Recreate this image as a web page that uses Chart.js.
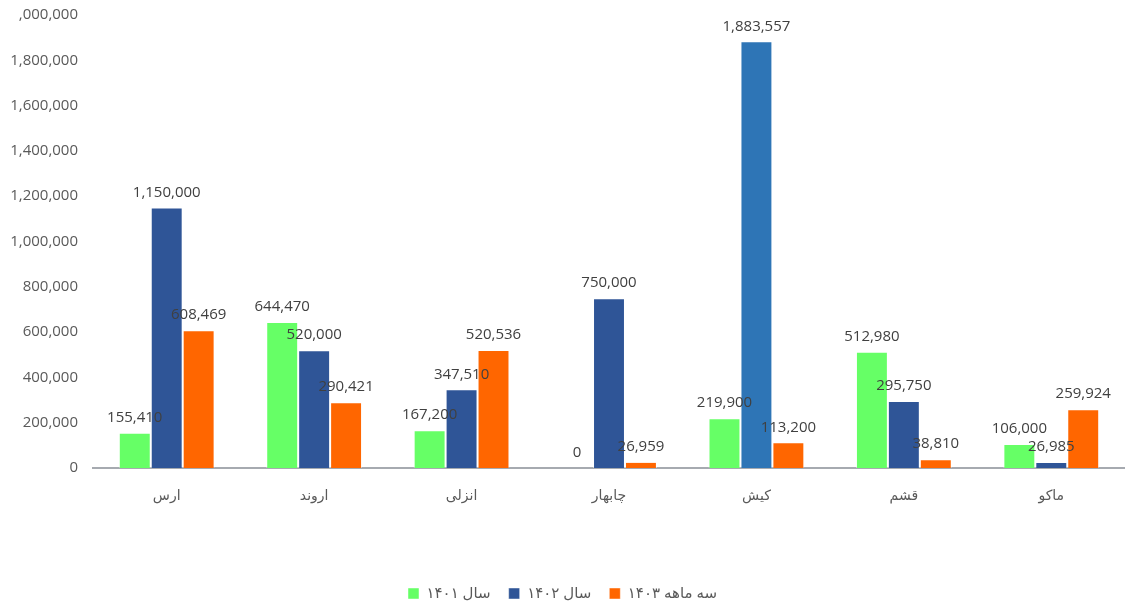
<!DOCTYPE html>
<html>
<head>
<meta charset="utf-8">
<script src="https://cdn.jsdelivr.net/npm/chart.js@4.4.0/dist/chart.umd.min.js"></script>
<style>
  html, body { margin: 0; padding: 0; background: #fff; }
  #wrap { width: 1125px; height: 605px; }
</style>
</head>
<body>
<div id="wrap"><canvas id="chart" width="1125" height="605"></canvas></div>
<script>
// data
const categories = ['ارس', 'اروند', 'انزلی', 'چابهار', 'کیش', 'قشم', 'ماکو'];
const seriesNames = ['سال ۱۴۰۱', 'سال ۱۴۰۲', 'سه ماهه ۱۴۰۳'];
const values1401 = [155410, 644470, 167200, 0, 219900, 512980, 106000];
const values1402 = [1150000, 520000, 347510, 750000, 1883557, 295750, 26985];
const values1403 = [608469, 290421, 520536, 26959, 113200, 38810, 259924];
const yTicks = [0, 200000, 400000, 600000, 800000, 1000000, 1200000, 1400000, 1600000, 1800000, 2000000];

const GREEN = '#66FF66';
const BLUE = '#2F5597';
const BLUE_KISH = '#2E75B6';
const ORANGE = '#FF6600';
const FONT = "'Open Sans', 'DejaVu Sans', sans-serif";
const PLOT_BOTTOM = 468;

const fmt = v => v.toLocaleString('en-US');

// value labels above the bars
const barLabels = {
    id: 'barLabels',
    afterDatasetsDraw(chart) {
        const ctx = chart.ctx;
        ctx.save();
        ctx.font = '15px ' + FONT;
        ctx.fillStyle = '#404040';
        ctx.textAlign = 'center';
        ctx.textBaseline = 'middle';
        chart.data.datasets.forEach((ds, i) => {
            chart.getDatasetMeta(i).data.forEach((bar, j) => {
                ctx.fillText(fmt(ds.data[j]), bar.x, bar.y - 15);
            });
        });
        ctx.restore();
    }
};

new Chart(document.getElementById('chart'), {
    type: 'bar',
    data: {
        labels: categories,
        datasets: [
            { label: seriesNames[0], data: values1401, backgroundColor: GREEN },
            { label: seriesNames[1], data: values1402, backgroundColor: values1402.map((v, i) => i === 4 ? BLUE_KISH : BLUE) },
            { label: seriesNames[2], data: values1403, backgroundColor: ORANGE }
        ]
    },
    options: {
        responsive: false,
        animation: false,
        layout: { padding: { top: 15, right: 0, left: 0, bottom: -6 } },
        datasets: {
            bar: {
                categoryPercentage: 0.65,
                barPercentage: 1.0,
                borderWidth: 1,
                borderColor: 'rgba(255,255,255,0.45)'
            }
        },
        scales: {
            x: {
                grid: { display: false, drawTicks: false },
                border: { display: true, color: '#A6AAB0', width: 2 },
                ticks: { color: '#595959', font: { family: FONT, size: 14 }, padding: 20 },
                afterFit: s => {
                    const lh = s.chart.legend ? s.chart.legend.height : 0;
                    s.height = s.chart.height - PLOT_BOTTOM - lh + 6;
                    s.paddingLeft = 0;
                    s.paddingRight = 0;
                }
            },
            y: {
                min: 0,
                max: 2000000,
                grid: { display: false, drawTicks: false },
                border: { display: false },
                afterBuildTicks: s => { s.ticks = yTicks.map(v => ({ value: v })); },
                ticks: {
                    color: '#595959',
                    font: { family: FONT, size: 15 },
                    padding: 15,
                    callback: v => v === 2000000 ? ',000,000' : fmt(v)
                },
                afterFit: s => {
                    s.width = 93;
                    s.paddingTop = 0;
                    s.paddingBottom = 0;
                }
            }
        },
        plugins: {
            legend: {
                position: 'bottom',
                labels: {
                    boxWidth: 11,
                    boxHeight: 11,
                    padding: 18,
                    color: '#595959',
                    font: { family: FONT, size: 15 }
                }
            },
            tooltip: { enabled: false }
        }
    },
    plugins: [barLabels]
});
</script>
</body>
</html>
